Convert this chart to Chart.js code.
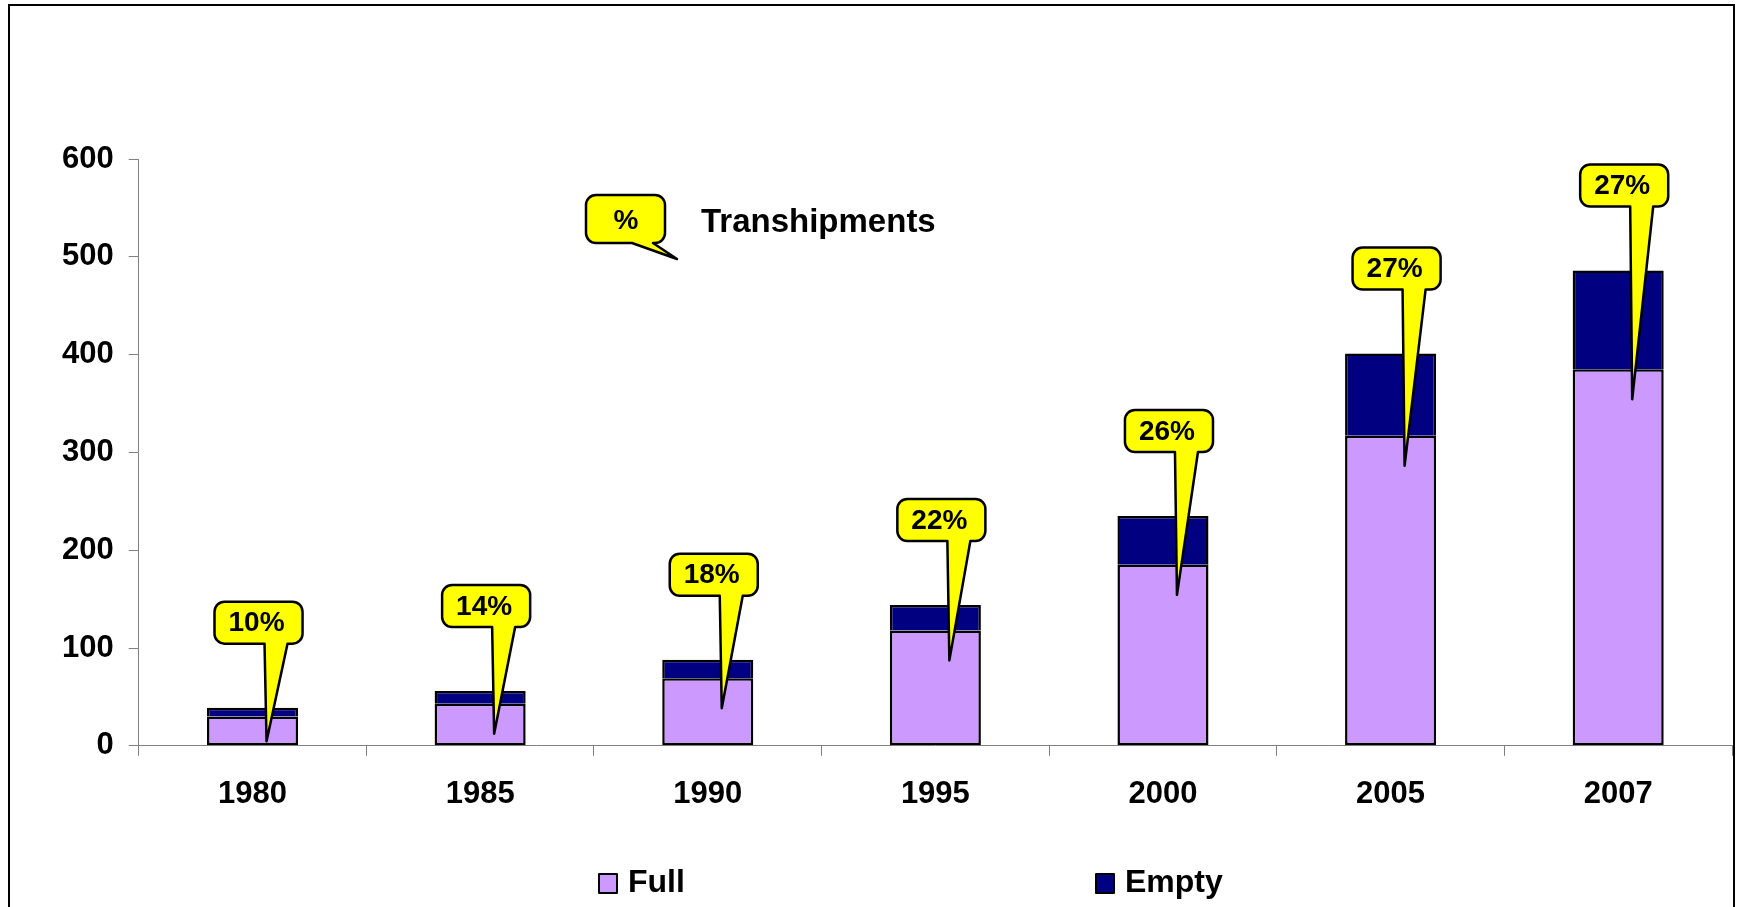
<!DOCTYPE html>
<html>
<head>
<meta charset="utf-8">
<script src="https://cdn.jsdelivr.net/npm/chart.js@4"></script>
<style>
  body { margin: 0; background: #fff; overflow: hidden; }
  #wrap { position: relative; width: 1739px; height: 907px; }
</style>
</head>
<body>
<div id="wrap"><canvas id="myChart"></canvas></div>
<script>
const years = ['1980', '1985', '1990', '1995', '2000', '2005', '2007'];
const full = [30, 43, 69, 118, 185, 317, 385];
const empty = [9, 13, 19, 26, 50, 84, 101];
const transhipPct = [10, 14, 18, 22, 26, 27, 27];
const yTicks = [0, 100, 200, 300, 400, 500, 600];

const FONT = "'Liberation Sans', Arial, sans-serif";

function callout(ctx, x, y, w, h, baseL, baseR, tipX, tipY) {
  const r = 10;
  ctx.beginPath();
  ctx.moveTo(x + r, y);
  ctx.lineTo(x + w - r, y);
  ctx.arcTo(x + w, y, x + w, y + r, r);
  ctx.lineTo(x + w, y + h - r);
  ctx.arcTo(x + w, y + h, x + w - r, y + h, r);
  ctx.lineTo(baseR, y + h);
  ctx.lineTo(tipX, tipY);
  ctx.lineTo(baseL, y + h);
  ctx.lineTo(x + r, y + h);
  ctx.arcTo(x, y + h, x, y + h - r, r);
  ctx.lineTo(x, y + r);
  ctx.arcTo(x, y, x + r, y, r);
  ctx.closePath();
  ctx.fillStyle = '#FFFF00';
  ctx.fill();
  ctx.lineWidth = 2.5;
  ctx.lineJoin = 'round';
  ctx.strokeStyle = '#000';
  ctx.stroke();
}

// frame, % callouts, key and legend
const extras = {
  id: 'extras',
  beforeDraw(chart) {
    const ctx = chart.ctx;
    ctx.save();
    ctx.strokeStyle = '#000';
    ctx.lineWidth = 2;
    ctx.strokeRect(9, 5, 1725, 960);
    ctx.restore();
  },
  afterDatasetsDraw(chart) {
    const ctx = chart.ctx;
    const fullMeta = chart.getDatasetMeta(0);
    const emptyMeta = chart.getDatasetMeta(1);
    ctx.save();
    ctx.font = 'bold 28px ' + FONT;
    fullMeta.data.forEach((bar, i) => {
      const label = transhipPct[i] + '%';
      const top = emptyMeta.data[i].y;
      const cx = bar.x + 6;
      const w = ctx.measureText(label).width + 32, h = 42;
      const by = top - 64 - h;
      const tipY = Math.min(bar.y + 30, bar.base - 4);
      callout(ctx, cx - w / 2, by, w, h, cx + 6, cx + 29, cx + 8, tipY);
      ctx.fillStyle = '#000';
      ctx.textAlign = 'left';
      ctx.textBaseline = 'middle';
      ctx.fillText(label, cx - w / 2 + 14, by + h / 2 + 1);
    });

    // key for the callouts
    callout(ctx, 586, 195, 79, 48, 632, 653, 677, 259);
    ctx.fillStyle = '#000';
    ctx.font = 'bold 28px ' + FONT;
    ctx.textAlign = 'center';
    ctx.textBaseline = 'middle';
    ctx.fillText('%', 626, 221);
    ctx.font = 'bold 33px ' + FONT;
    ctx.textAlign = 'left';
    ctx.fillText('Transhipments', 701, 223);

    // legend
    const items = [
      {text: 'Full', color: '#CC99FF', x: 599},
      {text: 'Empty', color: '#000080', x: 1096}
    ];
    items.forEach(it => {
      ctx.fillStyle = it.color;
      ctx.fillRect(it.x, 874, 18, 19);
      ctx.lineWidth = 2;
      ctx.strokeStyle = '#000';
      ctx.strokeRect(it.x, 874, 18, 19);
      ctx.fillStyle = '#000';
      ctx.font = 'bold 32px ' + FONT;
      ctx.textAlign = 'left';
      ctx.textBaseline = 'middle';
      ctx.fillText(it.text, it.x + 29, 883);
    });
    ctx.restore();
  }
};

const c1 = document.getElementById('myChart');

new Chart(c1, {
  type: 'bar',
  data: {
    labels: years,
    datasets: [{
      label: 'Full',
      data: full,
      backgroundColor: '#CC99FF',
      borderColor: '#000',
      borderWidth: 2.5,
      borderSkipped: false
    }, {
      label: 'Empty',
      data: empty,
      backgroundColor: '#000080',
      borderColor: '#000',
      borderWidth: 2.5,
      borderSkipped: 'start'
    }]
  },
  options: {
    maintainAspectRatio: false,
    animation: false,
    events: [],
    layout: {
      padding: {left: 47, right: 7, top: 159, bottom: 74}
    },
    datasets: {
      bar: {categoryPercentage: 1, barPercentage: 0.4}
    },
    plugins: {
      legend: {display: false},
      tooltip: {enabled: false}
    },
    scales: {
      x: {
        stacked: true,
        grid: {drawOnChartArea: false, tickLength: 10, color: '#808080', offset: true},
        border: {color: '#808080', width: 1},
        ticks: {color: '#000', padding: 20, font: {family: FONT, size: 31, weight: 'bold'}}
      },
      y: {
        stacked: true,
        min: 0,
        max: 600,
        afterBuildTicks: (axis) => { axis.ticks = yTicks.map(v => ({value: v})); },
        grid: {drawOnChartArea: false, tickLength: 10, color: '#808080'},
        border: {color: '#808080', width: 1},
        ticks: {color: '#000', padding: 15, font: {family: FONT, size: 31, weight: 'bold'}}
      }
    }
  },
  plugins: [extras]
});
</script>
</body>
</html>
